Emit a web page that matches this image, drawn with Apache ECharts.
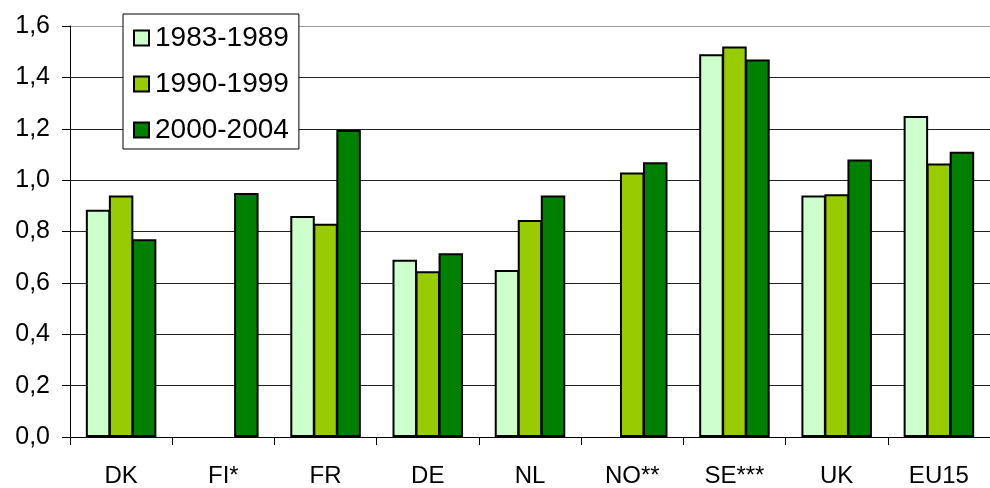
<!DOCTYPE html>
<html>
<head>
<meta charset="utf-8">
<script src="https://cdn.jsdelivr.net/npm/echarts@6/dist/echarts.min.js"></script>
<style>
  html, body { margin: 0; padding: 0; background: #fff; }
  #chart { width: 990px; height: 488px; }
</style>
</head>
<body>
<div id="chart"></div>
<script>
// Countries on the category axis
const countries = ['DK', 'FI*', 'FR', 'DE', 'NL', 'NO**', 'SE***', 'UK', 'EU15'];

// Period names (legend entries)
const periods = ['1983-1989', '1990-1999', '2000-2004'];

// Values per period, one entry per country (null = no data)
const values1983_1989 = [0.885, null, 0.86, 0.69, 0.65, null, 1.49, 0.94, 1.25];
const values1990_1999 = [0.94, null, 0.83, 0.645, 0.845, 1.03, 1.52, 0.945, 1.065];
const values2000_2004 = [0.77, 0.95, 1.195, 0.715, 0.94, 1.07, 1.47, 1.08, 1.11];

// Value axis ticks
const yMin = 0, yMax = 1.6, yStep = 0.2;

const seriesValues = [values1983_1989, values1990_1999, values2000_2004];
const seriesColors = ['#CCFFCC', '#99CC00', '#008000'];

const FONT = 'Liberation Sans, Arial, sans-serif';

const chart = echarts.init(document.getElementById('chart'), null, { renderer: 'canvas' });

// grey outer line at the top, dark inner gridlines
const gridColors = [];
for (let v = yMin; v <= yMax + 1e-9; v += yStep) {
  gridColors.push(Math.abs(v - yMax) < 1e-9 ? '#9a9a9a' : '#222');
}

chart.setOption({
  animation: false,
  backgroundColor: '#fff',
  textStyle: { fontFamily: FONT },
  grid: { left: 70, right: 0, top: 26, bottom: 49, containLabel: false },
  legend: {
    orient: 'vertical',
    left: 123,
    top: 14,
    padding: [10, 10, 5, 10],
    itemGap: 18,
    itemWidth: 15,
    itemHeight: 15,
    icon: 'rect',
    backgroundColor: '#fff',
    borderColor: '#000',
    borderWidth: 1,
    borderRadius: 0,
    data: periods,
    textStyle: { fontFamily: FONT, fontSize: 28, color: '#000', padding: [0, 0, 0, 1] }
  },
  xAxis: {
    type: 'category',
    data: countries,
    boundaryGap: true,
    axisLine: { lineStyle: { color: '#000', width: 1 } },
    axisTick: { show: true, length: 8, inside: false, lineStyle: { color: '#000' } },
    axisLabel: { fontFamily: FONT, fontSize: 24, color: '#000', margin: 27 }
  },
  yAxis: {
    type: 'value',
    min: yMin,
    max: yMax,
    interval: yStep,
    axisLine: { show: true, lineStyle: { color: '#000', width: 1 } },
    axisTick: { show: true, length: 8, lineStyle: { color: '#000' } },
    axisLabel: {
      fontFamily: FONT, fontSize: 25, color: '#000', margin: 20,
      formatter: v => v.toFixed(1).replace('.', ',')
    },
    splitLine: { show: true, lineStyle: { color: gridColors, width: 1 } }
  },
  series: periods.map((name, i) => ({
    name,
    type: 'bar',
    data: seriesValues[i],
    barGap: '-6%',
    barCategoryGap: '31%',
    itemStyle: { color: seriesColors[i], borderColor: '#000', borderWidth: 2 }
  }))
});
</script>
</body>
</html>
